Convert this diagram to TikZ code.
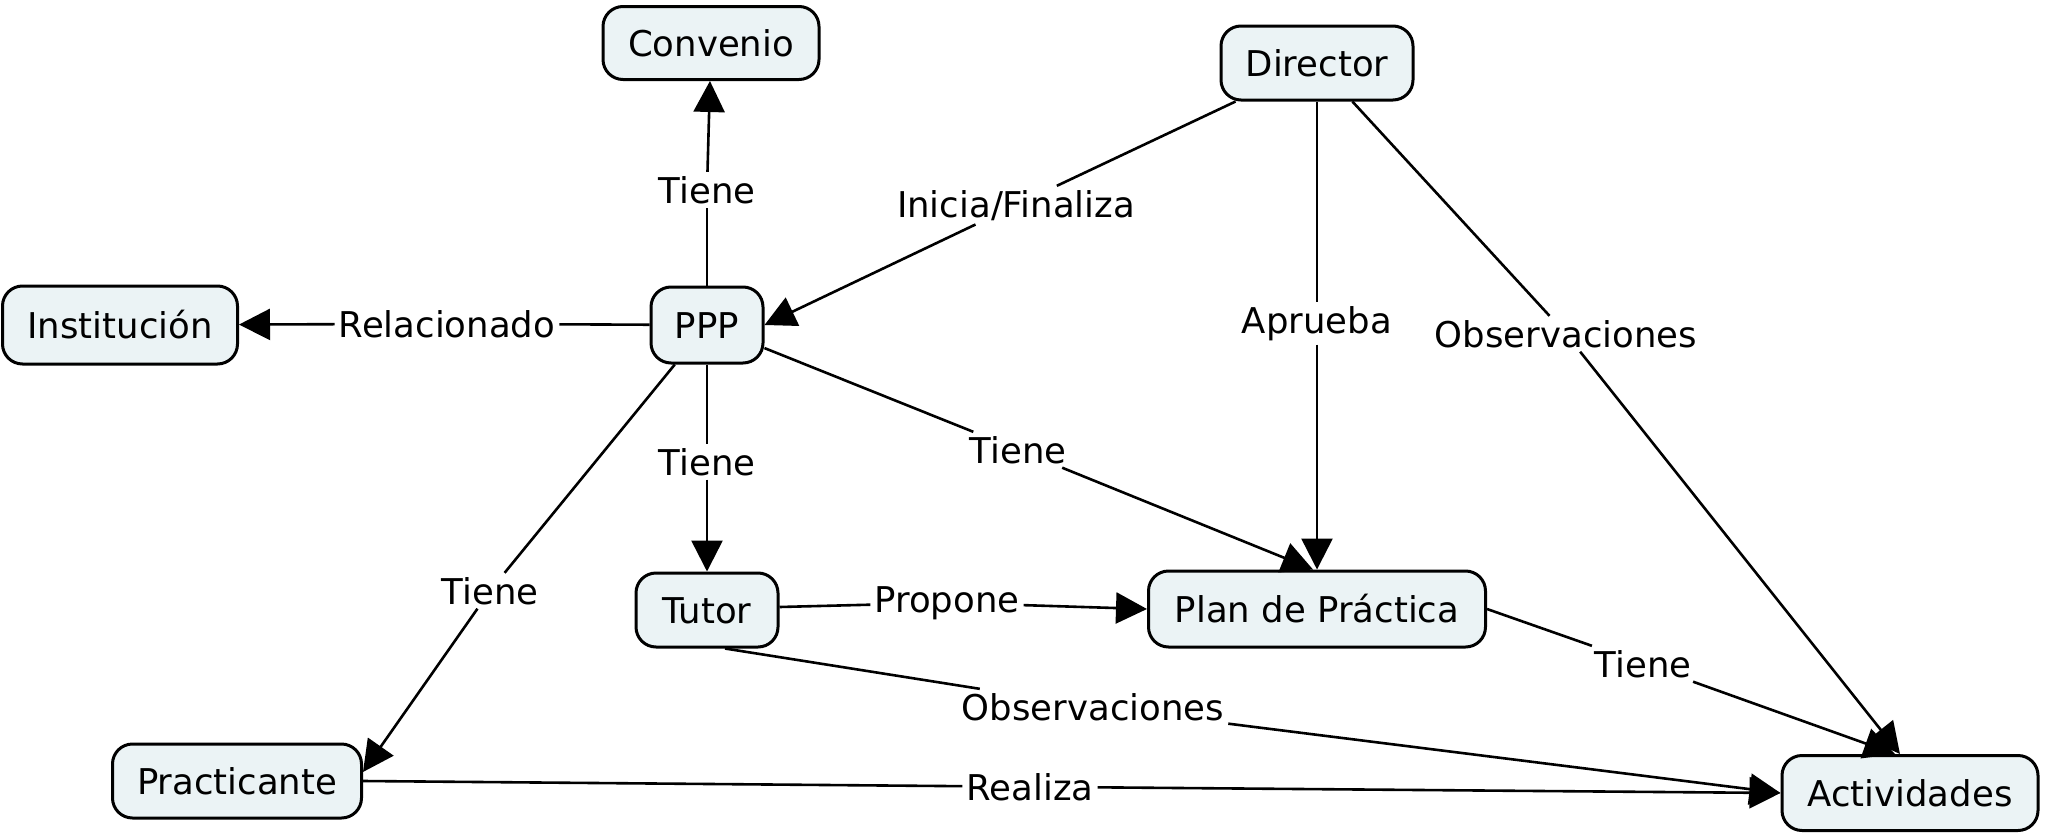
\documentclass[tikz,border=0pt]{standalone}
\usepackage{fontspec}
\setmainfont{DejaVu Sans}
\usetikzlibrary{arrows.meta,calc}
\definecolor{conceptfill}{RGB}{235,243,245}
\tikzset{
  concept/.style={draw=black,line width=3pt,fill=conceptfill,rounded corners=20pt,
    inner sep=0pt,text height=26pt,text depth=0pt,font=\fontsize{35.5}{42}\selectfont},
  linkword/.style={fill=white,inner sep=4pt,font=\fontsize{35.5}{42}\selectfont,anchor=base},
  conn/.style={line width=2.6pt},
  arr/.style={line width=2.6pt,-{Triangle[length=31pt,width=31pt]}},
}
\begin{document}
\begin{tikzpicture}[x=1pt,y=-1pt]
\fill[white] (0,0) rectangle (2046,835);
% concepts
\node[concept,minimum width=216pt,minimum height=73pt] (convenio) at (711,43) {Convenio};
\node[concept,minimum width=192pt,minimum height=74pt] (director) at (1317,63) {Director};
\node[concept,minimum width=235pt,minimum height=78pt] (institucion) at (120,325) {Institución};
\node[concept,minimum width=112pt,minimum height=76pt] (ppp) at (707,325) {PPP};
\node[concept,minimum width=142pt,minimum height=74pt] (tutor) at (707,610) {Tutor};
\node[concept,minimum width=337pt,minimum height=76pt] (plan) at (1317,609) {Plan de Práctica};
\node[concept,minimum width=249pt,minimum height=74pt] (practicante) at (237,781) {Practicante};
\node[concept,minimum width=256pt,minimum height=75pt] (actividades) at (1910,793) {Actividades};
% linking words
\node[linkword] (l1) at (707,203) {Tiene};
\node[linkword] (l2) at (1016,217) {Inicia/Finaliza};
\node[linkword] (l3) at (447,337) {Relacionado};
\node[linkword] (l4) at (1317,333) {Aprueba};
\node[linkword] (l5) at (1566,347) {Observaciones};
\node[linkword] (l6) at (707,475) {Tiene};
\node[linkword] (l7) at (1018,463) {Tiene};
\node[linkword] (l8) at (490,604) {Tiene};
\node[linkword] (l9) at (947,612) {Propone};
\node[linkword] (l10) at (1093,720) {Observaciones};
\node[linkword] (l11) at (1643,677) {Tiene};
\node[linkword] (l12) at (1030,800) {Realiza};
% connectors
\draw[conn] (ppp) -- (l1);
\draw[arr] (l1) -- (convenio);
\draw[conn] (director) -- (l2);
\draw[arr] (l2) -- (ppp.east);
\draw[conn] (ppp) -- (l3);
\draw[arr] (l3) -- (institucion);
\draw[conn] (director) -- (l4);
\draw[arr] (l4) -- (plan);
\draw[conn] (director) -- (l5);
\draw[arr] (l5) -- ($(actividades.north)+(-10,0)$);
\draw[conn] (ppp) -- (l6);
\draw[arr] (l6) -- (tutor);
\draw[conn] (ppp) -- (l7);
\draw[arr] (l7) -- ($(plan.north)+(-4,0)$);
\draw[conn] (ppp) -- (l8);
\draw[arr] (l8) -- ($(practicante.east)+(0,-9)$);
\draw[conn] ($(tutor.east)+(0,-3)$) -- (l9);
\draw[arr] (l9) -- (plan.west);
\draw[conn] ($(tutor.south)+(18,0)$) -- (l10);
\draw[arr] (l10) -- (actividades.west);
\draw[conn] (plan.east) -- (l11);
\draw[arr] (l11) -- ($(actividades.north)+(-15,0)$);
\draw[conn] (practicante.east) -- (l12);
\draw[arr] (l12) -- (actividades.west);
\end{tikzpicture}
\end{document}
